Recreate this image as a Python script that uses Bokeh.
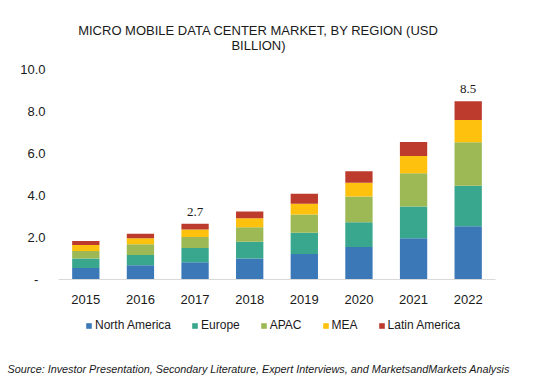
from bokeh.plotting import figure
from bokeh.layouts import column
from bokeh.models import (ColumnDataSource, Range1d, FactorRange, FixedTicker,
                          PrintfTickFormatter, LabelSet, Label, Legend, LegendItem)
from bokeh.embed import file_html
from bokeh.resources import INLINE

years = ["2015", "2016", "2017", "2018", "2019", "2020", "2021", "2022"]
regions = ["North America", "Europe", "APAC", "MEA", "Latin America"]
north_america = [0.55, 0.68, 0.82, 1.00, 1.22, 1.55, 1.96, 2.54]
europe = [0.45, 0.49, 0.68, 0.80, 1.01, 1.18, 1.52, 1.93]
apac = [0.36, 0.51, 0.52, 0.69, 0.87, 1.22, 1.58, 2.07]
mea = [0.28, 0.28, 0.36, 0.43, 0.51, 0.66, 0.82, 1.05]
latin_america = [0.19, 0.22, 0.27, 0.32, 0.47, 0.55, 0.67, 0.90]
total_labels = ["", "", "2.7", "", "", "", "", "8.5"]
y_ticks = [0, 2, 4, 6, 8, 10]
y_tick_labels = ["-", "2.0", "4.0", "6.0", "8.0", "10.0"]
title_lines = ["MICRO MOBILE DATA CENTER MARKET, BY REGION (USD", "BILLION)"]
source_text = ("Source: Investor Presentation, Secondary Literature, Expert Interviews, "
               "and MarketsandMarkets Analysis")

colors = ["#3B78B8", "#39A78E", "#9CB955", "#FEC10E", "#BC3B2D"]
FONT = "Liberation Sans"
TXT = "#1a1a1a"

totals = [sum(v) for v in zip(north_america, europe, apac, mea, latin_america)]
src = ColumnDataSource(dict(year=years, na=north_america, eu=europe, apac=apac,
                            mea=mea, la=latin_america, total=totals, lab=total_labels))


def strip(height):
    f = figure(width=546, height=height, x_range=Range1d(0, 546), y_range=Range1d(height, 0),
               output_backend="svg", toolbar_location=None, x_axis_type=None,
               y_axis_type=None, min_border=0, min_border_left=0, min_border_right=0,
               min_border_top=0, min_border_bottom=0)
    f.xgrid.visible = False
    f.ygrid.visible = False
    f.outline_line_color = None
    f.frame_align = False
    return f


# ---- title strip ----
p0 = strip(60)
for txt, yy in zip(title_lines, [30, 45]):
    p0.add_layout(Label(x=258, y=yy, text=txt, text_align="center", text_baseline="middle",
                        text_font=FONT, text_font_size="13px", text_color=TXT))

# ---- main chart ----
p = figure(width=546, height=246, x_range=FactorRange(*years, range_padding=0),
           y_range=Range1d(0, 10), output_backend="svg", toolbar_location=None,
           min_border_left=58, min_border_right=51, min_border_top=9, min_border_bottom=24)
p.frame_align = False

rs = p.vbar_stack(["na", "eu", "apac", "mea", "la"], x="year", width=0.5, color=colors,
                  line_color=None, source=src)

p.xgrid.visible = False
p.ygrid.visible = False
p.outline_line_color = None

xa = p.xaxis[0]
xa.axis_line_color = "#D9D9D9"
xa.major_tick_line_color = None
xa.minor_tick_line_color = None
xa.major_label_text_font = FONT
xa.major_label_text_font_size = "13px"
xa.major_label_text_color = TXT
xa.major_label_standoff = 9

ya = p.yaxis[0]
ya.axis_line_color = None
ya.major_tick_line_color = None
ya.minor_tick_line_color = None
ya.ticker = FixedTicker(ticks=y_ticks)
ya.formatter = PrintfTickFormatter(format="%.1f")
ya.major_label_overrides = {t: (lab if lab != "-" else "-\u00a0\u00a0")
                            for t, lab in zip(y_ticks, y_tick_labels)}
ya.major_label_text_font = FONT
ya.major_label_text_font_size = "13px"
ya.major_label_text_color = TXT
ya.major_label_standoff = 7

p.add_layout(LabelSet(x="year", y="total", text="lab", source=src, text_align="center",
                      text_baseline="bottom", y_offset=8, text_font=FONT,
                      text_font_size="13px", text_color=TXT))

# ---- legend + source strip ----
p2 = strip(73)
leg_rs = [p2.vbar(x="total", top="total", width=1, source=src, color=c,
                  line_color=None, visible=False) for c in colors]
legend = Legend(items=[LegendItem(label=r, renderers=[rr]) for r, rr in zip(regions, leg_rs)],
                orientation="horizontal", location=(85, 47), padding=0, margin=0,
                spacing=20, label_standoff=3, glyph_width=7, glyph_height=7,
                border_line_color=None, background_fill_alpha=0,
                inactive_fill_alpha=0, click_policy="none",
                label_text_font=FONT, label_text_font_size="12px",
                label_text_color=TXT, label_height=14)
p2.add_layout(legend)

p2.add_layout(Label(x=7, y=62, text=source_text, text_align="left", text_baseline="middle",
                    text_font=FONT, text_font_style="italic", text_font_size="10.8px",
                    text_color=TXT))

layout = column(p0, p, p2, spacing=0)
open("out.html", "w").write(file_html(layout, INLINE))
